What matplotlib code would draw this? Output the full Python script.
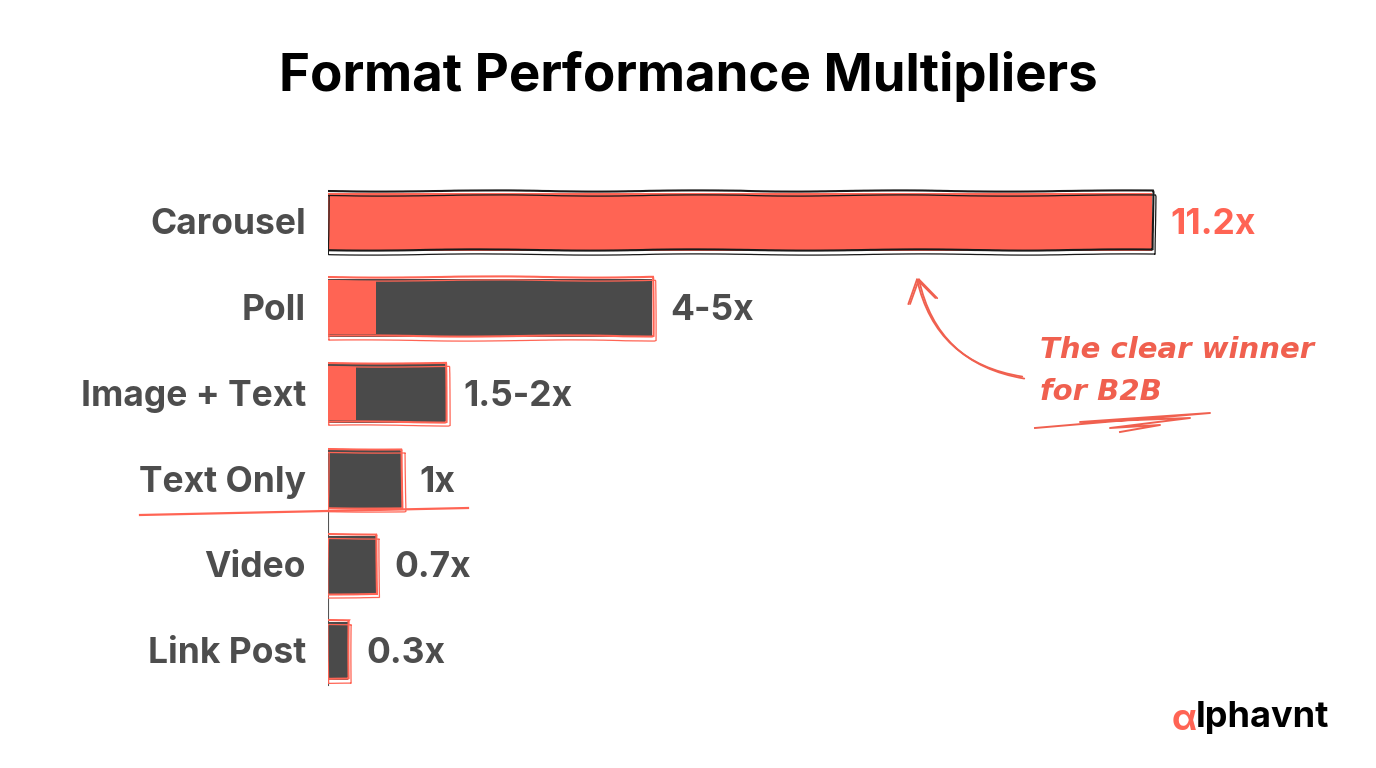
import matplotlib
matplotlib.use("Agg")
import matplotlib.pyplot as plt
from matplotlib.patches import Rectangle, FancyArrowPatch
import numpy as np

categories = ["Carousel", "Poll", "Image + Text", "Text Only", "Video", "Link Post"]
bar_values = [11.2, 4.4, 1.6, 1.0, 0.65, 0.27]
value_labels = ["11.2x", "4-5x", "1.5-2x", "1x", "0.7x", "0.3x"]
red_part = [11.2, 0.65, 0.38, 0.0, 0.0, 0.0]

RED = "#FF6454"
DARK = "#4A4A4A"
LABEL = "#4D4D4D"
FONT = ["Inter", "DejaVu Sans"]

W, H = 1376, 768
fig = plt.figure(figsize=(W / 100, H / 100), dpi=100)
fig.patch.set_facecolor("white")

def fx(x):
    return x / W

def fy(y):
    return 1 - y / H

ax = fig.add_axes([fx(328), fy(720), 1 - fx(328), (720 - 150) / H])
ax.set_xlim(0, (W - 328) / 73.6)
ax.set_ylim(5 + 69 / 85.8, -72 / 85.8)
ax.axis("off")

bh = 0.68
for i, (cat, v, rp, lab) in enumerate(zip(categories, bar_values, red_part, value_labels)):
    y0 = i - bh / 2
    face = RED if rp >= v else DARK
    ax.add_patch(Rectangle((0, y0), v, bh, facecolor=face, edgecolor="none", zorder=2))
    if 0 < rp < v:
        ax.add_patch(Rectangle((0, y0 + 0.03), rp, bh - 0.06, facecolor=RED, edgecolor="none", zorder=3))
    ec = "#1a1a1a" if i == 0 else RED
    for k, (dx, dy) in enumerate([(0, 0), (0.03, 0.04)]):
        r = Rectangle((-0.03 + dx, y0 - 0.02 + dy), v + 0.04, bh + 0.01, facecolor="none",
                      edgecolor=ec, lw=1.5 if k == 0 else 0.9, zorder=4)
        r.set_sketch_params(scale=0.6, length=300, randomness=4)
        ax.add_patch(r)
    ax.annotate(cat, xy=(0, i), xytext=(-16, -2), textcoords="offset points",
                ha="right", va="center", fontsize=25.5, fontweight="bold",
                color=LABEL, family=FONT)
    ax.annotate(lab, xy=(v, i), xytext=(13, -2), textcoords="offset points",
                ha="left", va="center", fontsize=25.5, fontweight="bold",
                color=RED if i == 0 else LABEL, family=FONT)

# baseline below Text Only
ax.plot([0, 0], [3.35, 5.4], color="#555555", lw=0.8, zorder=1)

# red underline under Text Only
fig.add_artist(plt.Line2D([fx(140), fx(468)], [fy(515), fy(508)], color=RED, lw=1.6))

# title
fig.text(0.5, fy(76), "Format Performance Multipliers", ha="center", va="center",
         fontsize=38, fontweight="bold", color="black", family=FONT)

# annotation
ACC = "#F0604F"
fig.text(fx(1040), fy(350), "The clear winner", ha="left", va="center", fontsize=21,
         color=ACC, style="italic", fontweight="bold", family=["DejaVu Sans"])
fig.text(fx(1040), fy(392), "for B2B", ha="left", va="center", fontsize=21,
         color=ACC, style="italic", fontweight="bold", family=["DejaVu Sans"])
for off in [0, 2]:
    arrow = FancyArrowPatch((fx(1025 + off), fy(377 + off)), (fx(916 + off), fy(275)),
                            transform=fig.transFigure,
                            connectionstyle="arc3,rad=-0.35",
                            arrowstyle="->,head_length=8,head_width=5",
                            color=ACC, lw=1.3, mutation_scale=2)
    fig.add_artist(arrow)
# scribble underline
sx = [1035, 1210, 1080, 1190, 1110, 1160, 1120]
sy = [428, 413, 422, 418, 428, 425, 432]
fig.add_artist(plt.Line2D([fx(v) for v in sx], [fy(v) for v in sy], color=ACC, lw=1.4,
                          solid_joinstyle="round"))

# logo
fig.text(fx(1172), fy(720), "\u03b1", ha="left", va="center", fontsize=26,
         fontweight="bold", color=RED, family=FONT)
fig.text(fx(1196), fy(718), "lphavnt", ha="left", va="center", fontsize=26,
         fontweight="bold", color="black", family=FONT)

fig.savefig("out.png", dpi=100, facecolor="white")
